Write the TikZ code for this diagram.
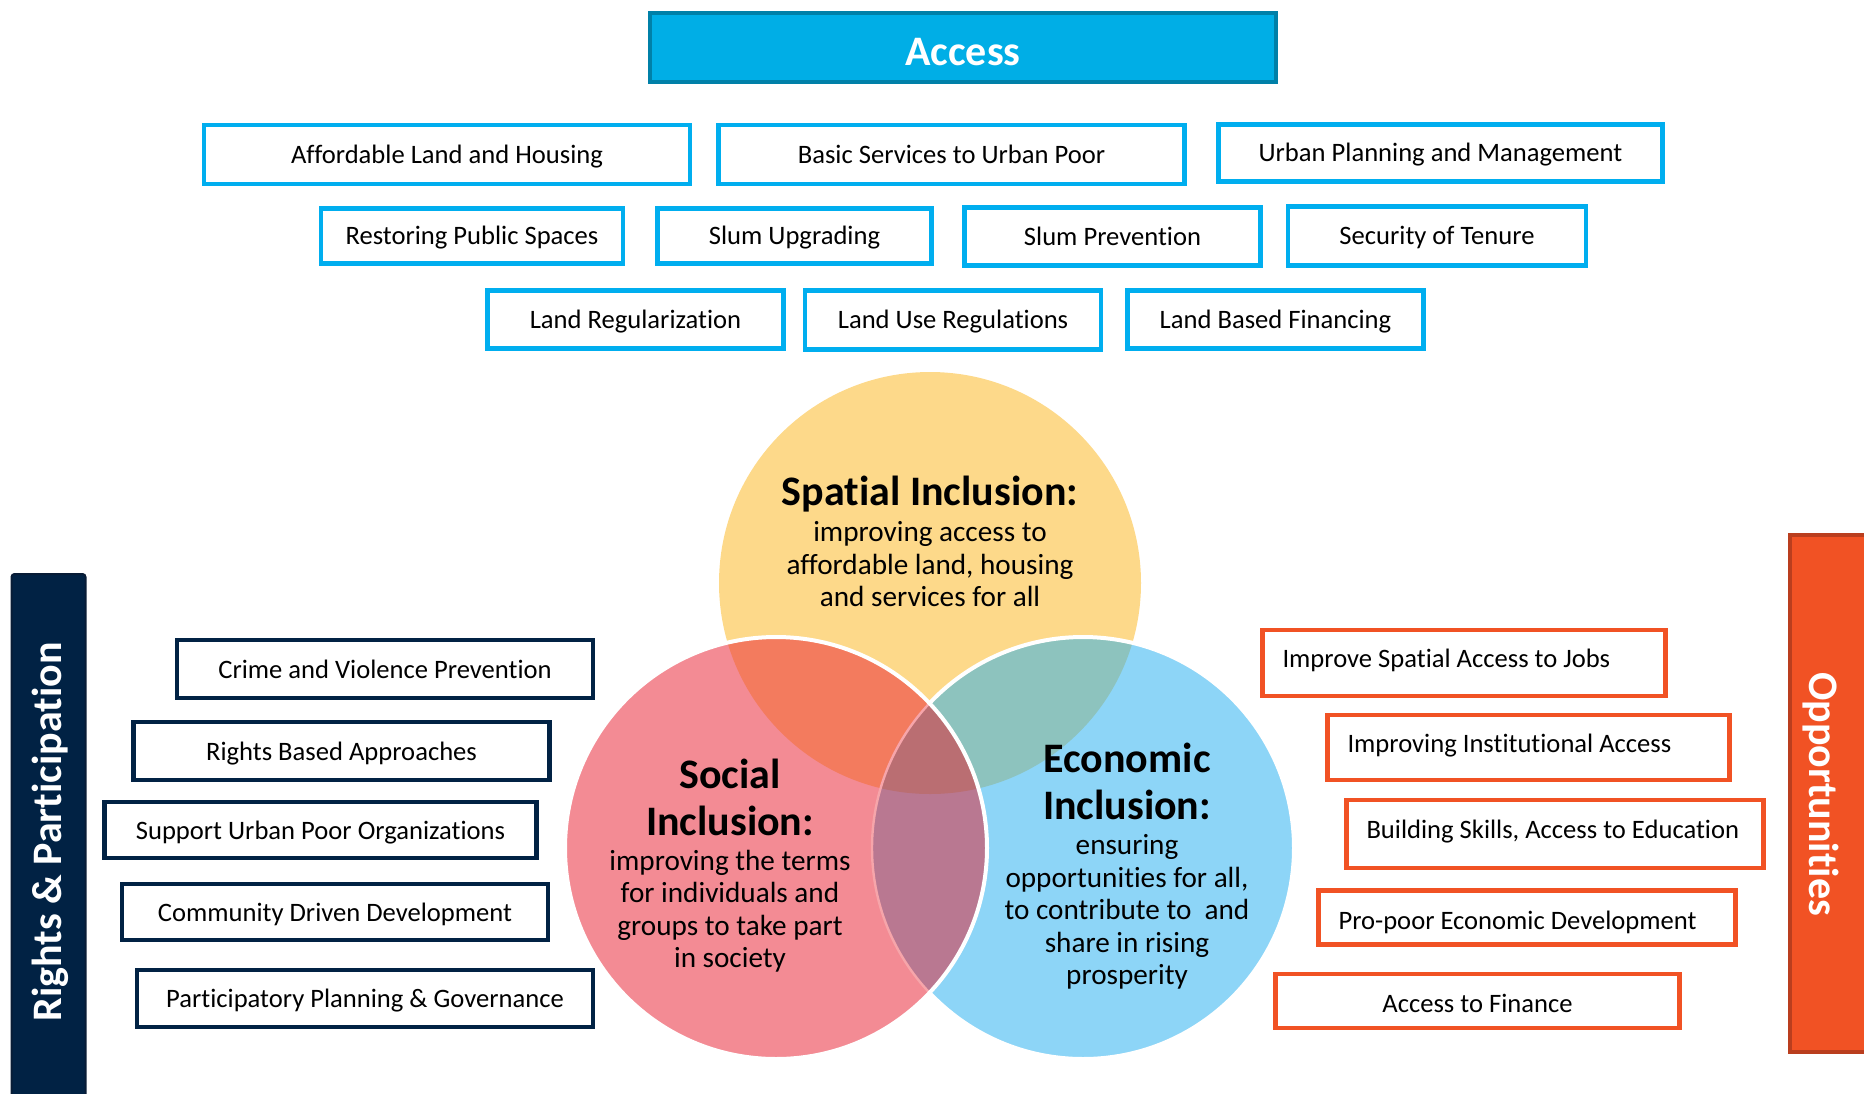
\documentclass[tikz,border=0pt]{standalone}
\usepackage{fontspec}
\setmainfont{Carlito}[Ligatures=NoCommon]

\definecolor{accessfill}{RGB}{0,174,230}
\definecolor{accessedge}{RGB}{0,128,168}
\definecolor{accessline}{RGB}{0,174,239}
\definecolor{rightsnavy}{RGB}{1,34,68}
\definecolor{rightsedge}{RGB}{8,28,54}
\definecolor{oppred}{RGB}{241,82,36}
\definecolor{oppedge}{RGB}{186,62,30}
\definecolor{spatialfill}{RGB}{253,217,138}
\definecolor{socialfill}{RGB}{243,139,148}
\definecolor{econfill}{RGB}{141,213,247}
\definecolor{spsocfill}{RGB}{243,123,94}
\definecolor{speconfill}{RGB}{141,195,190}
\definecolor{soceconfill}{RGB}{185,120,145}
\definecolor{allfill}{RGB}{186,110,114}
\definecolor{softpink}{RGB}{246,165,170}

\tikzset{
  headtext/.style={font=\fontsize{21}{23.5}\selectfont\bfseries, text=white, inner sep=0pt},
  accessitem/.style={draw=accessline, line width=2.4pt, fill=white, inner sep=0pt,
    font=\fontsize{13.3}{16}\selectfont, text height=11pt, text depth=2.5pt},
  rightsitem/.style={draw=rightsnavy, line width=2.3pt, fill=white, inner sep=0pt,
    font=\fontsize{13.3}{16}\selectfont, text height=11.9pt, text depth=2.5pt},
  oppitem/.style={draw=oppred, line width=2.1pt, fill=white, inner xsep=10pt, inner ysep=0pt,
    font=\fontsize{13.3}{16}\selectfont, text height=7pt, text depth=2.5pt},
  opplow/.style={oppitem, text height=14pt},
  circtitle/.style={font=\fontsize{21}{23.5}\selectfont\bfseries, align=center, inner sep=0pt},
  circbody/.style={font=\fontsize{14.6}{16.25}\selectfont, align=center, inner sep=0pt},
}

\newcommand{\crad}{211}

\begin{document}
\begin{tikzpicture}[x=0.5pt,y=-0.5pt]
  \useasboundingbox (0,0) rectangle (1864,1093);

  % Access header and its items
  \node[fill=accessfill, draw=accessedge, line width=2pt, minimum width=313pt, minimum height=34.5pt,
    headtext, text height=18.2pt, text depth=0pt] (access) at (963,47.5) {Access};

  \node[accessitem, minimum width=243pt, minimum height=29.5pt] (afford) at (447,154.5) {Affordable Land and Housing};
  \node[accessitem, minimum width=233pt, minimum height=29.5pt] (basic) at (951.5,154.5) {Basic Services to Urban Poor};
  \node[accessitem, minimum width=222pt, minimum height=28.75pt] (urban) at (1440.5,153) {Urban Planning and Management};

  \node[accessitem, minimum width=151pt, minimum height=27.75pt] (restore) at (472,236) {Restoring Public Spaces};
  \node[accessitem, minimum width=137pt, minimum height=27.75pt] (upgrade) at (794.5,236) {Slum Upgrading};
  \node[accessitem, minimum width=148pt, minimum height=29.25pt] (prevent) at (1112.5,236.5) {Slum Prevention};
  \node[accessitem, minimum width=149pt, minimum height=29.5pt] (tenure) at (1437,236) {Security of Tenure};

  \node[accessitem, minimum width=148pt, minimum height=29.25pt] (landreg) at (635.5,319.5) {Land Regularization};
  \node[accessitem, minimum width=148pt, minimum height=29.5pt] (landuse) at (953,320) {Land Use Regulations};
  \node[accessitem, minimum width=148pt, minimum height=29.25pt] (landfin) at (1275.5,319.5) {Land Based Financing};

  % the three circles
  \coordinate (spatial) at (930,583);
  \coordinate (social) at (776,848);
  \coordinate (econ) at (1083,848);

  \fill[spatialfill] (spatial) circle[radius=\crad];
  \fill[econfill] (econ) circle[radius=\crad];
  \fill[socialfill] (social) circle[radius=\crad];

  \begin{scope}
    \clip (spatial) circle[radius=\crad];
    \fill[spsocfill] (social) circle[radius=\crad];
    \fill[speconfill] (econ) circle[radius=\crad];
  \end{scope}
  \begin{scope}
    \clip (social) circle[radius=\crad];
    \fill[soceconfill] (econ) circle[radius=\crad];
    \clip (spatial) circle[radius=\crad];
    \fill[allfill] (econ) circle[radius=\crad];
  \end{scope}

  \begin{scope}
    \clip (social) circle[radius=\crad];
    \draw[softpink, line width=1.2pt] (econ) circle[radius=\crad];
  \end{scope}
  \begin{scope}[even odd rule]
    \clip (0,0) rectangle (1864,1093) (social) circle[radius=\crad];
    \draw[white, line width=2pt] (econ) circle[radius=\crad];
  \end{scope}
  \draw[white, line width=2pt] (social) circle[radius=\crad];

  \node[circtitle] (spatialhead) at (930,494.5) {Spatial Inclusion:};
  \node[circbody] (spatialtext) at (930,564.5) {improving access to\\affordable land, housing\\and services for all};

  \node[circtitle] (socialhead) at (730,797) {Social\\Inclusion:};
  \node[circbody] (socialtext) at (730,911) {improving the terms\\for individuals and\\groups to take part\\in society};

  \node[circtitle] (econhead) at (1127,781) {Economic\\Inclusion:};
  \node[circbody] (econtext) at (1127,912) {ensuring\\opportunities for all,\\to contribute to~~and\\share in rising\\prosperity};

  % Rights & Participation
  \node[fill=rightsnavy, draw=rightsedge, line width=1pt, rounded corners=1.5pt,
    minimum width=37pt, minimum height=267pt] (rightsbar) at (48.5,841) {};
  \node[headtext, rotate=90] (rightslabel) at (50,832) {Rights \& Participation};

  \node[rightsitem, minimum width=208pt, minimum height=29pt] (crime) at (385,669) {Crime and Violence Prevention};
  \node[rightsitem, minimum width=208pt, minimum height=29pt] (rightsbased) at (341.5,751) {Rights Based Approaches};
  \node[rightsitem, minimum width=216pt, minimum height=28pt] (support) at (320.5,830) {Support Urban Poor Organizations};
  \node[rightsitem, minimum width=213pt, minimum height=28pt] (community) at (335,912) {Community Driven Development};
  \node[rightsitem, minimum width=228pt, minimum height=28.5pt] (planning) at (365,998.5) {Participatory Planning \& Governance};

  % Opportunities
  \node[fill=oppred, draw=oppedge, line width=2pt,
    minimum width=39pt, minimum height=258.5pt] (oppbar) at (1829,793.5) {};
  \node[headtext, rotate=-90] (opplabel) at (1821,794) {Opportunities};

  \node[oppitem, minimum height=33pt] (jobs) at (1464,663) {\makebox[181.5pt][l]{Improve Spatial Access to Jobs}};
  \node[oppitem, minimum height=32.5pt] (institution) at (1528.5,747.5) {\makebox[181pt][l]{Improving Institutional Access}};
  \node[oppitem, minimum height=34pt] (skills) at (1555,834) {\makebox[188.5pt][l]{Building Skills, Access to Education}};
  \node[opplow, minimum height=27pt] (propoor) at (1527,917.5) {\makebox[188.5pt][l]{Pro-poor Economic Development}};
  \node[opplow, minimum height=27pt] (finance) at (1477.5,1001) {\makebox[182pt][c]{Access to Finance}};
\end{tikzpicture}
\end{document}
